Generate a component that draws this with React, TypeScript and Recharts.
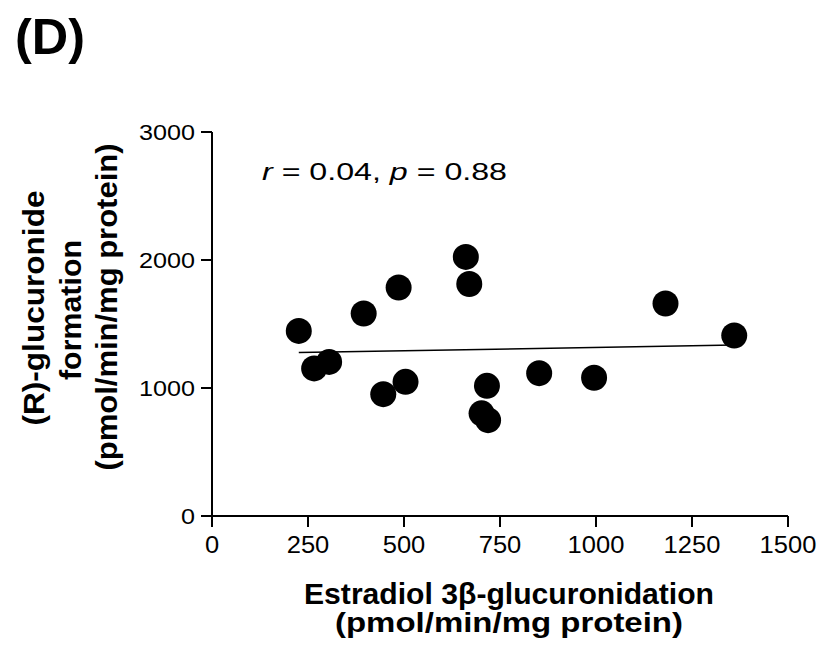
import React from "react";
import { ScatterChart, Scatter, XAxis, YAxis } from "recharts";

// Estradiol 3β-glucuronidation vs (R)-glucuronide formation
const estradiolRate = [226, 266, 305, 395, 486, 446, 504, 661, 670, 716, 702, 719, 852, 995, 1181, 1360];
const rGlucuronide = [1446, 1153, 1204, 1582, 1785, 952, 1048, 2024, 1813, 1017, 802, 749, 1116, 1080, 1660, 1410];

// regression line end points
const fitX = [226, 1360];
const fitY = [1278, 1335];

const xTicks = [0, 250, 500, 750, 1000, 1250, 1500];
const yTicks = [0, 1000, 2000, 3000];

const FONT = "'Liberation Sans', Arial, Helvetica, sans-serif";

const points = estradiolRate.map((x, i) => ({ x, y: rGlucuronide[i] }));
const fitLine = fitX.map((x, i) => ({ x, y: fitY[i] }));

const Dot = (props: any) => <circle cx={props.cx} cy={props.cy} r={13} fill="#000" />;

// tick text is a bit wider than plain Arial in the original figure
const makeTick = (fontSize: number, perChar: number, dy: string) => (props: any) => {
  const { x, y, payload, textAnchor } = props;
  const label = String(payload.value);
  return (
    <text
      x={x}
      y={y}
      dy={dy}
      textAnchor={textAnchor}
      fontSize={fontSize}
      fontFamily={FONT}
      fill="#000"
      textLength={label.length * perChar}
      lengthAdjust="spacingAndGlyphs"
    >
      {label}
    </text>
  );
};

const XTick = makeTick(24, 14.2, "0.72em");
const YTick = makeTick(22.5, 14, "0.36em");

export default function App() {
  return (
    <div style={{ position: "absolute", left: 0, top: 0, width: 824, height: 652, background: "#fff" }}>
      <ScatterChart
        width={824}
        height={652}
        margin={{ top: 132, right: 36, bottom: 96, left: 122 }}
      >
        <XAxis
          type="number"
          dataKey="x"
          domain={[0, 1500]}
          ticks={xTicks}
          height={40}
          stroke="#000"
          strokeWidth={2}
          tickSize={11}
          tickMargin={9}
          tick={XTick}
          allowDataOverflow
        />
        <YAxis
          type="number"
          dataKey="y"
          domain={[0, 3000]}
          ticks={yTicks}
          width={90}
          stroke="#000"
          strokeWidth={2}
          tickSize={11}
          tickMargin={6}
          tick={YTick}
          allowDataOverflow
        />
        <Scatter
          data={fitLine}
          line={{ stroke: "#000", strokeWidth: 1.5 }}
          shape={() => <g />}
          isAnimationActive={false}
        />
        <Scatter data={points} shape={Dot} isAnimationActive={false} />
      </ScatterChart>

      <svg
        width={824}
        height={652}
        style={{ position: "absolute", left: 0, top: 0, pointerEvents: "none" }}
        fontFamily={FONT}
      >
        <text x={15} y={54} fontSize={50} fontWeight="bold" textLength={70} lengthAdjust="spacingAndGlyphs">
          (D)
        </text>

        <text x={262} y={180} fontSize={23} textLength={245} lengthAdjust="spacingAndGlyphs">
          <tspan fontStyle="italic">r</tspan> = 0.04, <tspan fontStyle="italic">p</tspan> = 0.88
        </text>

        <text x={509} y={604} fontSize={29} fontWeight="bold" textAnchor="middle" textLength={410} lengthAdjust="spacingAndGlyphs">
          Estradiol 3β-glucuronidation
        </text>
        <text x={509} y={632} fontSize={27} fontWeight="bold" textAnchor="middle" textLength={348} lengthAdjust="spacingAndGlyphs">
          (pmol/min/mg protein)
        </text>

        <text x={44} y={308} transform="rotate(-90 44 308)" fontSize={30} fontWeight="bold" textAnchor="middle" textLength={235} lengthAdjust="spacingAndGlyphs">
          (R)-glucuronide
        </text>
        <text x={81} y={310} transform="rotate(-90 81 310)" fontSize={30} fontWeight="bold" textAnchor="middle" textLength={140} lengthAdjust="spacingAndGlyphs">
          formation
        </text>
        <text x={117} y={307} transform="rotate(-90 117 307)" fontSize={30} fontWeight="bold" textAnchor="middle" textLength={327} lengthAdjust="spacingAndGlyphs">
          (pmol/min/mg protein)
        </text>
      </svg>
    </div>
  );
}
